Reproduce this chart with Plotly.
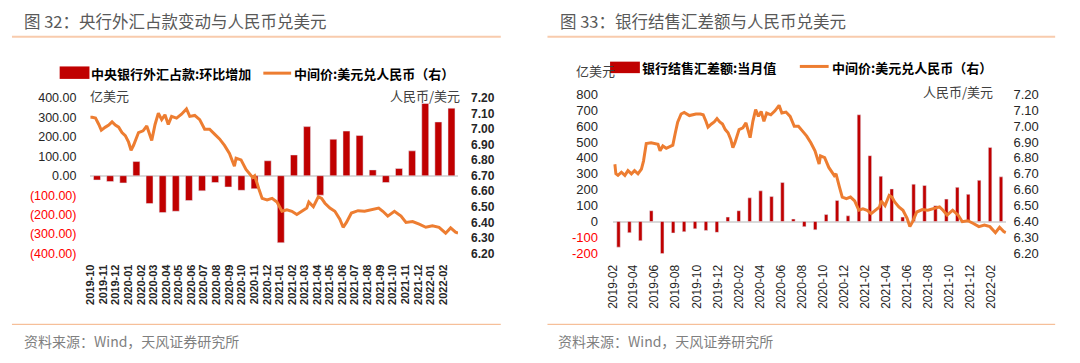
import plotly.graph_objects as go

# ---------------- data ----------------
left_months = ["2019-10", "2019-11", "2019-12",
               "2020-01", "2020-02", "2020-03", "2020-04", "2020-05", "2020-06",
               "2020-07", "2020-08", "2020-09", "2020-10", "2020-11", "2020-12",
               "2021-01", "2021-02", "2021-03", "2021-04", "2021-05", "2021-06",
               "2021-07", "2021-08", "2021-09", "2021-10", "2021-11", "2021-12",
               "2022-01"]
left_fx_change = [-22, -30, -37,
                  73, -143, -190, -183, -128, -78,
                  -35, -58, -75, -67, 77, -345,
                  107, 253, -100, 188, 230, 207,
                  30, -35, 37, 128, 372, 277,
                  348]

right_months = ["2019-02", "2019-03", "2019-04", "2019-05", "2019-06", "2019-07",
                "2019-08", "2019-09", "2019-10", "2019-11", "2019-12",
                "2020-01", "2020-02", "2020-03", "2020-04", "2020-05", "2020-06",
                "2020-07", "2020-08", "2020-09", "2020-10", "2020-11", "2020-12",
                "2021-01", "2021-02", "2021-03", "2021-04", "2021-05", "2021-06",
                "2021-07", "2021-08", "2021-09", "2021-10", "2021-11", "2021-12",
                "2022-01"]
right_bank_fx = [-161, -70, -120, 68, -203, -72, -64, -46, -56, -68, 28,
                 68, 149, 193, 157, 245, 16, -32, -52, 44, 133, 36, 671,
                 414, 285, 205, 28, 235, 227, 100, 141, 215, 171, 259, 466,
                 281]

line_dates = [
    "2019-02-06", "2019-02-09", "2019-02-15", "2019-02-25", "2019-03-07",
    "2019-03-16", "2019-03-26", "2019-04-04", "2019-04-14", "2019-04-24",
    "2019-04-30", "2019-05-08", "2019-05-22", "2019-06-01", "2019-06-11",
    "2019-06-17", "2019-06-25", "2019-07-05", "2019-07-14", "2019-07-24",
    "2019-07-31", "2019-08-07", "2019-08-17", "2019-08-26", "2019-09-10",
    "2019-09-29", "2019-10-12", "2019-10-20", "2019-10-28", "2019-11-03",
    "2019-11-13", "2019-11-21", "2019-11-29", "2019-12-07", "2019-12-15",
    "2019-12-23", "2019-12-31",
    "2020-01-08", "2020-01-14", "2020-01-20", "2020-02-01", "2020-02-12",
    "2020-02-21", "2020-02-29", "2020-03-04", "2020-03-12", "2020-03-20",
    "2020-03-28", "2020-04-05", "2020-04-13", "2020-04-21", "2020-05-03",
    "2020-05-15", "2020-05-27", "2020-06-04", "2020-06-16", "2020-06-28",
    "2020-07-10", "2020-07-22", "2020-08-03", "2020-08-15", "2020-08-27",
    "2020-09-08", "2020-09-20", "2020-09-24", "2020-10-06", "2020-10-18",
    "2020-11-03", "2020-11-08", "2020-11-18", "2020-11-26", "2020-12-08",
    "2020-12-20",
    "2021-01-01", "2021-01-13", "2021-01-25", "2021-02-06", "2021-02-18",
    "2021-03-02", "2021-03-14", "2021-03-19", "2021-03-30", "2021-04-11",
    "2021-04-19", "2021-04-27", "2021-05-09", "2021-05-21", "2021-06-02",
    "2021-06-10", "2021-06-18", "2021-06-30", "2021-07-16", "2021-08-01",
    "2021-08-17", "2021-09-04", "2021-09-14", "2021-09-26", "2021-10-12",
    "2021-10-28", "2021-11-09", "2021-11-25", "2021-12-11", "2021-12-27",
    "2022-01-12", "2022-01-28", "2022-02-13", "2022-02-25", "2022-03-09",
    "2022-03-15"]
line_usdcny = [
    6.76, 6.70, 6.69, 6.71, 6.69,
    6.72, 6.70, 6.72, 6.70, 6.73,
    6.78, 6.89, 6.895, 6.89, 6.885,
    6.845, 6.875, 6.86, 6.87, 6.88,
    6.955, 7.025, 7.076, 7.086, 7.066,
    7.076, 7.076, 7.071, 7.03, 6.993,
    7.013, 7.026, 7.047, 7.026, 7.013,
    6.978, 6.958,
    6.916, 6.864, 6.896, 6.978, 6.989,
    7.02, 6.947, 6.927, 7.03, 7.103,
    7.061, 7.092, 7.03, 7.082, 7.071,
    7.096, 7.13, 7.082, 7.088, 7.061,
    6.999, 6.999, 6.968, 6.937, 6.895,
    6.844, 6.761, 6.813, 6.802, 6.74,
    6.689, 6.70, 6.616, 6.554, 6.544,
    6.554,
    6.53, 6.471, 6.48, 6.471, 6.45,
    6.471, 6.492, 6.53, 6.50, 6.564,
    6.554, 6.523, 6.492, 6.471, 6.42,
    6.368, 6.399, 6.46, 6.475, 6.471,
    6.48, 6.492, 6.471, 6.44, 6.471,
    6.44, 6.399, 6.405, 6.388, 6.368,
    6.378, 6.368, 6.33, 6.364, 6.337,
    6.33]

left_axis_ticks = [400, 300, 200, 100, 0, -100, -200, -300, -400]
right_axis_ticks = [800, 700, 600, 500, 400, 300, 200, 100, 0, -100, -200]
rate_ticks = [7.2, 7.1, 7.0, 6.9, 6.8, 6.7, 6.6, 6.5, 6.4, 6.3, 6.2]

left_date_labels = ["2019-10", "2019-11", "2019-12",
                    "2020-01", "2020-02", "2020-03", "2020-04", "2020-05", "2020-06",
                    "2020-07", "2020-08", "2020-09", "2020-10", "2020-11", "2020-12",
                    "2021-01", "2021-02", "2021-03", "2021-04", "2021-05", "2021-06",
                    "2021-07", "2021-08", "2021-09", "2021-10", "2021-11", "2021-12",
                    "2022-01", "2022-02"]
right_date_labels = ["2019-02", "2019-04", "2019-06", "2019-08", "2019-10", "2019-12",
                     "2020-02", "2020-04", "2020-06", "2020-08", "2020-10", "2020-12",
                     "2021-02", "2021-04", "2021-06", "2021-08", "2021-10", "2021-12",
                     "2022-02"]

# ---------------- helpers ----------------
W, H = 1080, 363
FONT = "Liberation Sans, Arial, Noto Sans CJK SC, sans-serif"
CJK = "Noto Sans CJK SC, Liberation Sans, sans-serif"
BAR = "#C00000"
LINE = "#ED7D31"
RED = "#FF0000"


def px(x):
    return x / W


def py(y):
    return 1 - y / H


def fmt_left(v):
    if v < 0:
        return f"<span style='color:{RED}'>({abs(v):.2f})</span>"
    return f"{v:.2f}"


def fmt_right(v):
    if v < 0:
        return f"<span style='color:{RED}'>{v}</span>"
    return f"{v}"


L_DOM = [px(84), px(454)]
L_Y = [py(257), py(95)]
R_DOM = [px(610), px(1006)]
R_Y = [py(257), py(91)]

fig = go.Figure()

fig.add_trace(go.Bar(x=left_months, y=left_fx_change, marker_color=BAR,
                     width=0.53, xaxis="x", yaxis="y", showlegend=False))
fig.add_trace(go.Scatter(x=line_dates, y=line_usdcny, mode="lines",
                         line=dict(color=LINE, width=3),
                         xaxis="x3", yaxis="y2", showlegend=False))
fig.add_trace(go.Bar(x=right_months, y=right_bank_fx, marker_color=BAR,
                     width=0.32, xaxis="x2", yaxis="y3", showlegend=False))
fig.add_trace(go.Scatter(x=line_dates, y=line_usdcny, mode="lines",
                         line=dict(color=LINE, width=3),
                         xaxis="x4", yaxis="y4", showlegend=False))

axis_common = dict(showgrid=False, showline=False, fixedrange=True)

fig.update_layout(
    width=W, height=H,
    margin=dict(l=0, r=0, t=0, b=0),
    paper_bgcolor="white", plot_bgcolor="white",
    font=dict(family=FONT, size=12, color="#262626"),
    xaxis=dict(domain=L_DOM, anchor="y", type="category",
               range=[-0.5, len(left_months) - 0.5],
               showticklabels=False, zeroline=False, **axis_common),
    yaxis=dict(domain=L_Y, anchor="x", range=[-400, 400],
               tickvals=left_axis_ticks,
               ticktext=[fmt_left(v) for v in left_axis_ticks],
               tickfont=dict(size=12.5, color="#262626"),
               ticklabelstandoff=13,
               zeroline=True, zerolinecolor="#D9D9D9", zerolinewidth=1.5,
               **axis_common),
    yaxis2=dict(overlaying="y", side="right", anchor="x", range=[6.2, 7.2],
                tickvals=rate_ticks, tickformat=".2f",
                tickfont=dict(size=12, color="#262626", weight="bold"),
                ticklabelstandoff=12, zeroline=False, **axis_common),
    xaxis3=dict(overlaying="x", anchor="y", type="date",
                range=["2019-10-07 18:00", "2022-03-15"],
                tickvals=[d + "-08" for d in left_date_labels],
                ticktext=left_date_labels, tickangle=-90,
                tickfont=dict(size=11, color="#262626", weight="bold"),
                ticklabelstandoff=8, zeroline=False, **axis_common),
    xaxis2=dict(domain=R_DOM, anchor="y3", type="category",
                range=[-0.5, len(right_months) - 0.5],
                showticklabels=False, zeroline=False, **axis_common),
    yaxis3=dict(domain=R_Y, anchor="x2", range=[-200, 800],
                tickvals=right_axis_ticks,
                ticktext=[fmt_right(v) for v in right_axis_ticks],
                tickfont=dict(size=13, color="#262626"),
                ticklabelstandoff=14,
                zeroline=True, zerolinecolor="#D9D9D9", zerolinewidth=1.5,
                **axis_common),
    yaxis4=dict(overlaying="y3", side="right", anchor="x2", range=[6.2, 7.2],
                tickvals=rate_ticks, tickformat=".2f",
                tickfont=dict(size=13, color="#262626"),
                ticklabelstandoff=6, zeroline=False, **axis_common),
    xaxis4=dict(overlaying="x2", anchor="y3", type="date",
                range=["2019-01-31 18:00", "2022-03-17"],
                tickvals=[d + "-01" for d in right_date_labels],
                ticktext=right_date_labels, tickangle=-90,
                tickfont=dict(size=12, color="#262626"),
                ticklabelstandoff=8, zeroline=False, **axis_common),
)

shapes = []
annos = []


def text(x, y, s, size=13, color="#262626", anchor="left", bold=False, family=CJK):
    annos.append(dict(x=px(x), y=py(y), xref="paper", yref="paper", text=s,
                      showarrow=False, xanchor=anchor, yanchor="middle",
                      font=dict(size=size, color=color, family=family,
                                weight="bold" if bold else "normal"),
                      borderpad=0))


def hline(x0, x1, y, color, width):
    shapes.append(dict(type="line", xref="paper", yref="paper",
                       x0=px(x0), x1=px(x1), y0=py(y), y1=py(y),
                       line=dict(color=color, width=width)))


def rect(x0, x1, y0, y1, color):
    shapes.append(dict(type="rect", xref="paper", yref="paper",
                       x0=px(x0), x1=px(x1), y0=py(y1), y1=py(y0),
                       fillcolor=color, line=dict(width=0)))


# titles and frame lines
text(16, 15, "图 32：央行外汇占款变动与人民币兑美元", size=16.5, color="#595959")
text(556, 15, "图 33：银行结售汇差额与人民币兑美元", size=16.5, color="#595959")
hline(5, 497, 31, "#F8CBAD", 2)
hline(544, 1055, 31, "#F8CBAD", 2)
hline(5, 497, 331, "#F4B183", 1)
hline(544, 1055, 331, "#F4B183", 1)
text(16, 348, "资料来源：Wind，天风证券研究所", size=14, color="#7F7F7F")
text(554, 348, "资料来源：Wind，天风证券研究所", size=14, color="#7F7F7F")

# left legend
rect(53, 83, 62, 75, BAR)
text(84, 69, "中央银行外汇占款:环比增加", size=13, color="#000000", bold=True)
hline(258, 286, 69, LINE, 3)
text(288, 69, "中间价:美元兑人民币（右）", size=13, color="#000000", bold=True)
text(83, 92, "亿美元", size=13, color="#404040")
text(457, 92, "人民币/美元", size=13, color="#404040", anchor="right")

# right legend
text(572, 66, "亿美元", size=13, color="#404040")
rect(607, 637, 57, 69, BAR)
text(638, 63, "银行结售汇差额:当月值", size=13, color="#000000", bold=True)
hline(798, 827, 62, LINE, 3)
text(829, 63, "中间价:美元兑人民币（右）", size=13, color="#000000", bold=True)
text(993, 88, "人民币/美元", size=13, color="#404040", anchor="right")

fig.update_layout(shapes=shapes, annotations=annos)

fig.write_html("out.html", config={"displayModeBar": False},
               post_script="document.body.style.margin='0';document.body.style.overflow='hidden';")
